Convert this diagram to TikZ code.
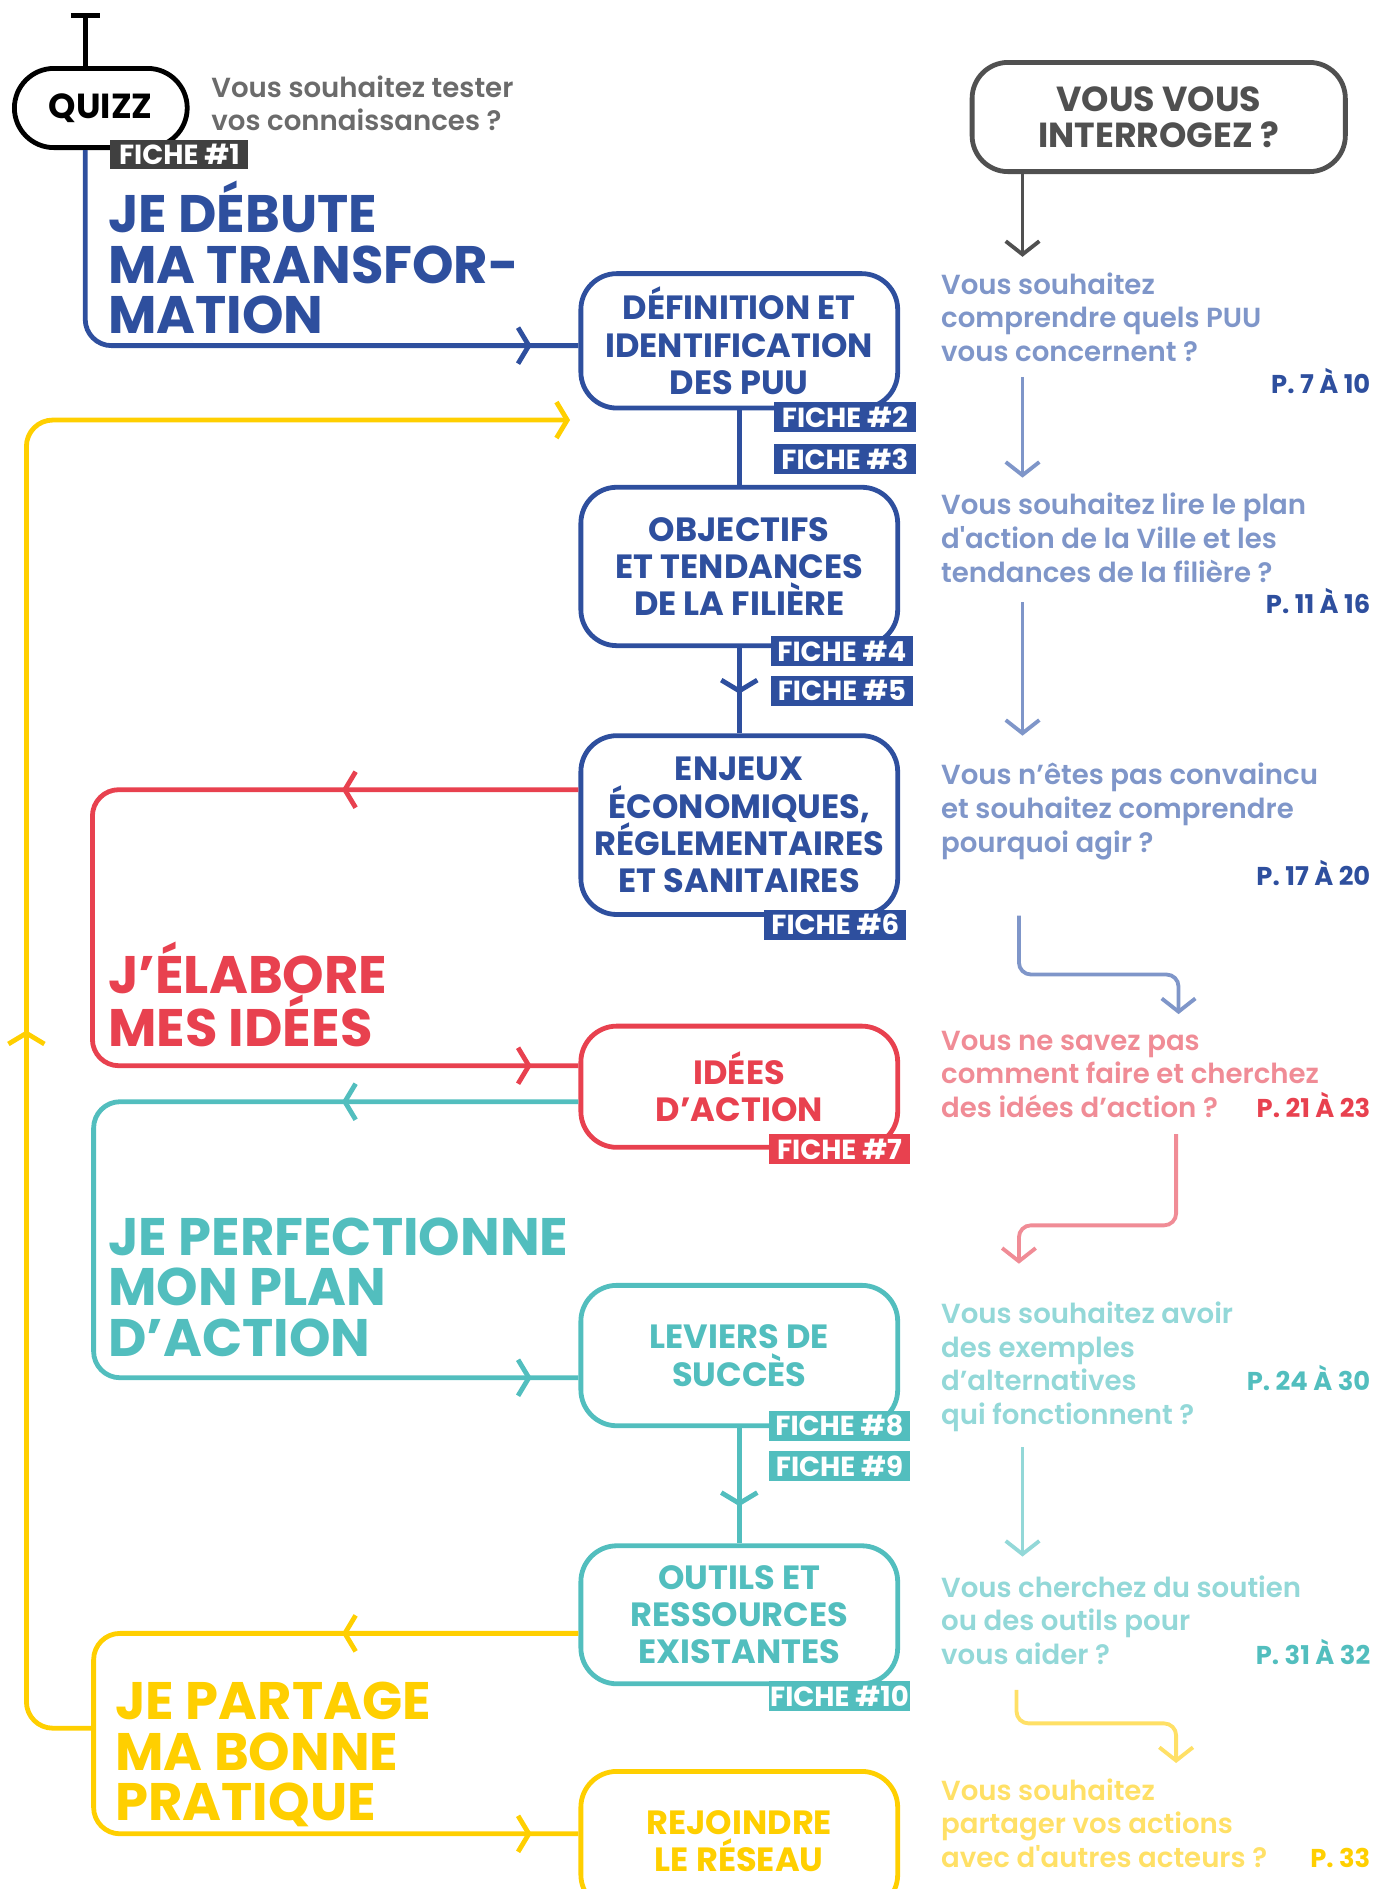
\documentclass[tikz,border=0pt]{standalone}
\usepackage{fontspec}
\setmainfont{Poppins}
\newfontfamily\semib{Poppins SemiBold}
\usetikzlibrary{arrows.meta, positioning, decorations.markings}

\definecolor{pblue}{RGB}{46,79,158}
\definecolor{pbluel}{RGB}{127,150,201}
\definecolor{pred}{RGB}{232,65,79}
\definecolor{predl}{RGB}{240,140,150}
\definecolor{pteal}{RGB}{82,190,190}
\definecolor{pteall}{RGB}{147,216,216}
\definecolor{pyel}{RGB}{255,207,0}
\definecolor{pyell}{RGB}{255,224,102}
\definecolor{pgray}{RGB}{80,80,80}
\definecolor{pgrayt}{RGB}{107,107,107}
\definecolor{pdark}{RGB}{64,64,64}

\begin{document}
\begin{tikzpicture}[x=1pt, y=-1pt,
    box/.style={draw, line width=4pt, rounded corners=30pt, minimum width=264pt, align=center, inner sep=0pt, font=\fontsize{28}{31}\selectfont\bfseries},
    tag/.style={fill, text=white, minimum width=118pt, minimum height=25pt, inner sep=0pt, font=\fontsize{23}{23}\selectfont\bfseries},
    head/.style={anchor=base west, align=left, inner sep=0pt, font=\fontsize{44}{42}\selectfont\bfseries},
    ask/.style={anchor=base west, align=left, inner sep=0pt, font=\fontsize{23}{28}\selectfont\semib},
    page/.style={anchor=base east, inner sep=0pt, font=\fontsize{21.5}{21.5}\selectfont\bfseries},
    link/.style={line width=4pt, rounded corners=22pt},
    hint/.style={line width=3.2pt, rounded corners=10pt, -{Straight Barb[length=11pt,width=28pt]}},
    chev/.style={postaction={decorate, decoration={markings, mark=at position #1 with {\arrow{Straight Barb[length=9pt,width=30pt]}}}}}
  ]
  \useasboundingbox (0,0) rectangle (1160,1574);

  % Quizz Section
  \node (quizz) [draw, line width=4pt, rounded corners=33pt, minimum width=144pt, minimum height=66pt, font=\fontsize{29}{29}\selectfont\bfseries] at (84,90) {QUIZZ};
  \coordinate (quizz_top) at (71,13);
  \draw [line width=4pt] (quizz_top) -- (quizz_top |- quizz.north);
  \draw [line width=4pt] ([xshift=-12pt]quizz_top) -- ([xshift=12pt]quizz_top);
  \node (quizz_ask) [ask, text=pgrayt] at (176,109) {Vous souhaitez tester\\vos connaissances ?};

  % Boxes
  \node (def_box) [box, pblue, minimum height=112pt] at (616,284) {DÉFINITION ET\\IDENTIFICATION\\DES PUU};
  \node (obj_box) [box, pblue, minimum height=132pt] at (616,472) {OBJECTIFS\\ET TENDANCES\\DE LA FILIÈRE};
  \node (enj_box) [box, pblue, minimum height=149pt] at (616,687.5) {ENJEUX\\ÉCONOMIQUES,\\RÉGLEMENTAIRES\\ET SANITAIRES};
  \node (ide_box) [box, pred, minimum height=101pt] at (616,905.5) {IDÉES\\D’ACTION};
  \node (lev_box) [box, pteal, minimum height=117pt] at (616,1129.5) {LEVIERS DE\\SUCCÈS};
  \node (out_box) [box, pteal, minimum height=115pt] at (616,1345.5) {OUTILS ET\\RESSOURCES\\EXISTANTES};
  \node (rej_box) [box, pyel, minimum height=116pt] at (616,1534) {REJOINDRE\\LE RÉSEAU};

  % Links between boxes
  \draw [link, pblue] (def_box.south) -- (obj_box.north);
  \draw [link, pblue, chev=38pt] (obj_box.south) -- (enj_box.north);
  \draw [link, pteal, chev=65pt] (lev_box.south) -- (out_box.north);

  % Loops on the left
  \draw [link, pblue, chev=-39pt] (quizz_top |- quizz.south) |- (def_box.west |- 0,288);
  \draw [link, pred, chev=197pt, chev=-39pt] (enj_box.west |- 0,658) -- (77,658) -- (77,888) -- (ide_box.west |- 0,888);
  \draw [link, pteal, chev=197pt, chev=-39pt] (ide_box.west |- 0,918) -- (78,918) -- (78,1148) -- (lev_box.west |- 0,1148);
  \draw [link, pyel, chev=197pt, chev=-39pt] (out_box.west |- 0,1361) -- (78,1361) -- (78,1528) -- (rej_box.west |- 0,1528);
  \coordinate (share_join) at (78,1440);
  \coordinate (loop_end) at (475,350);
  \draw [link, pyel, chev=628pt, -{Straight Barb[length=9pt,width=30pt]}] (share_join) -- (22,1440) -- (22,350) -- (loop_end);

  % Fiche tags
  \node (tag_one) [tag, fill=pdark, minimum width=115pt, minimum height=24pt] at (149.5,129) {FICHE \#1};
  \node (tag_two) [tag, fill=pblue] at (704,347.5) {FICHE \#2};
  \node (tag_three) [tag, fill=pblue] at (704,382.5) {FICHE \#3};
  \node (tag_four) [tag, fill=pblue] at (701.5,542.5) {FICHE \#4};
  \node (tag_five) [tag, fill=pblue] at (701.5,575.5) {FICHE \#5};
  \node (tag_six) [tag, fill=pblue] at (696,770.5) {FICHE \#6};
  \node (tag_seven) [tag, fill=pred] at (699.5,957.5) {FICHE \#7};
  \node (tag_eight) [tag, fill=pteal] at (699.5,1188) {FICHE \#8};
  \node (tag_nine) [tag, fill=pteal] at (699.5,1221.5) {FICHE \#9};
  \node (tag_ten) [tag, fill=pteal] at (699.5,1413.5) {FICHE \#10};

  % Headings
  \node (head_start) [head, text=pblue] at (90,278) {JE DÉBUTE\\MA TRANSFOR-\\MATION};
  \node (head_ideas) [head, text=pred] at (90,872) {J’ÉLABORE\\MES IDÉES};
  \node (head_plan) [head, text=pteal] at (90,1130) {JE PERFECTIONNE\\MON PLAN\\D’ACTION};
  \node (head_share) [head, text=pyel] at (96,1517) {JE PARTAGE\\MA BONNE\\PRATIQUE};

  % Questions column
  \node (ask_box) [draw=pgray, text=pgray, line width=4pt, rounded corners=30pt, minimum width=311pt, minimum height=91pt, align=center, font=\fontsize{29}{30}\selectfont\bfseries] at (965.5,97.5) {VOUS VOUS\\INTERROGEZ ?};

  \node (ask_one) [ask, text=pbluel] at (784,301) {Vous souhaitez\\comprendre quels PUU\\vous concernent ?};
  \node (page_one) [page, text=pblue] at (1142,327.5) {P. 7 À 10};
  \node (ask_two) [ask, text=pbluel] at (784,485) {Vous souhaitez lire le plan\\d'action de la Ville et les\\tendances de la filière ?};
  \node (page_two) [page, text=pblue] at (1142,511) {P. 11 À 16};
  \node (ask_three) [ask, text=pbluel] at (784,710) {Vous n’êtes pas convaincu\\et souhaitez comprendre\\pourquoi agir ?};
  \node (page_three) [page, text=pblue] at (1142,738) {P. 17 À 20};
  \node (ask_four) [ask, text=predl] at (784,931) {Vous ne savez pas\\comment faire et cherchez\\des idées d’action ?};
  \node (page_four) [page, text=pred] at (1142,931) {P. 21 À 23};
  \node (ask_five) [ask, text=pteall] at (784,1187) {Vous souhaitez avoir\\des exemples\\d’alternatives\\qui fonctionnent ?};
  \node (page_five) [page, text=pteal] at (1142,1159) {P. 24 À 30};
  \node (ask_six) [ask, text=pteall] at (784,1387) {Vous cherchez du soutien\\ou des outils pour\\vous aider ?};
  \node (page_six) [page, text=pteal] at (1142,1387) {P. 31 À 32};
  \node (ask_seven) [ask, text=pyell] at (784,1556) {Vous souhaitez\\partager vos actions\\avec d'autres acteurs ?};
  \node (page_seven) [page, text=pyel] at (1142,1556) {P. 33};

  % Arrows between questions
  \coordinate (hint0_end) at (852,214);
  \draw [hint, pgray] (ask_box.south -| hint0_end) -- (hint0_end);
  \coordinate (hint1_start) at (852,314);
  \coordinate (hint1_end) at (852,398);
  \draw [hint, pbluel] (hint1_start) -- (hint1_end);
  \coordinate (hint2_start) at (852,502);
  \coordinate (hint2_end) at (852,613);
  \draw [hint, pbluel] (hint2_start) -- (hint2_end);
  \coordinate (hint3_start) at (849,763);
  \coordinate (hint3_end) at (982,845);
  \draw [hint, pbluel] (hint3_start) -- (849,812) -- (982,812) -- (hint3_end);
  \coordinate (hint4_start) at (980,945);
  \coordinate (hint4_end) at (849,1053);
  \draw [hint, predl] (hint4_start) -- (980,1021) -- (849,1021) -- (hint4_end);
  \coordinate (hint5_start) at (852,1206);
  \coordinate (hint5_end) at (852,1297);
  \draw [hint, pteall] (hint5_start) -- (hint5_end);
  \coordinate (hint6_start) at (847,1408);
  \coordinate (hint6_end) at (980,1469);
  \draw [hint, pyell] (hint6_start) -- (847,1436) -- (980,1436) -- (hint6_end);
\end{tikzpicture}
\end{document}
